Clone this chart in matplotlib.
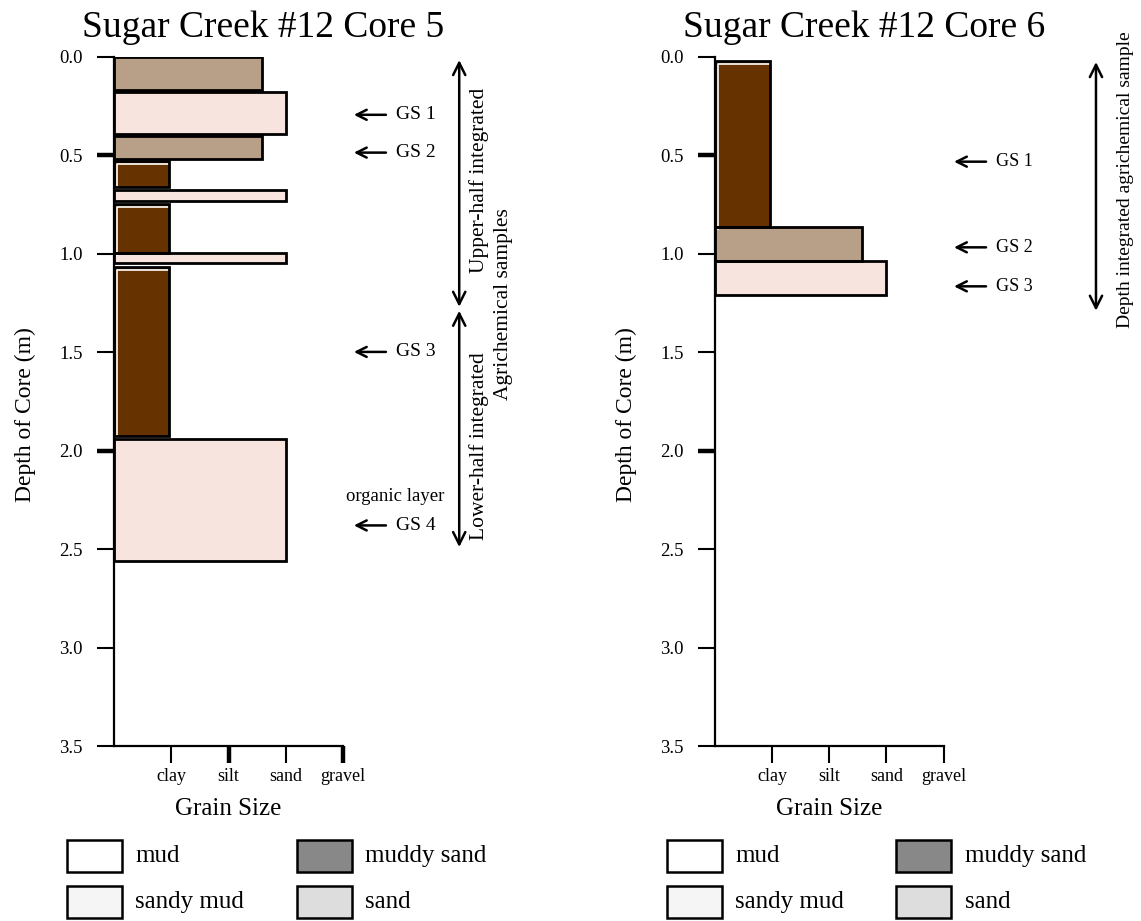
import matplotlib
matplotlib.use('Agg')
import matplotlib.pyplot as plt
from matplotlib.patches import Rectangle
from matplotlib.transforms import offset_copy

plt.rcParams['font.family'] = ['Liberation Serif', 'DejaVu Serif']

# ---------------- data ----------------
grain_ticks = [1, 2, 3, 4]
grain_labels = ['clay', 'silt', 'sand', 'gravel']
depth_ticks = [0.0, 0.5, 1.0, 1.5, 2.0, 2.5, 3.0, 3.5]

core5_top = [0.0, 0.179, 0.405, 0.528, 0.675, 0.75, 0.997, 1.066, 1.94]
core5_bottom = [0.168, 0.391, 0.519, 0.661, 0.735, 0.997, 1.049, 1.926, 2.559]
core5_grain = [2.58, 3.0, 2.58, 0.96, 3.0, 0.96, 3.0, 0.96, 3.0]
core5_kind = ['tan', 'pink', 'tan', 'brown', 'pink', 'brown', 'pink', 'brown', 'pink']

core6_top = [0.02, 0.865, 1.037]
core6_bottom = [0.865, 1.037, 1.211]
core6_grain = [0.96, 2.57, 2.99]
core6_kind = ['brown', 'tan', 'pink']

core5_gs_labels = ['GS 1', 'GS 2', 'GS 3', 'GS 4']
core5_gs_depth = [0.295, 0.487, 1.499, 2.38]
core5_note = 'organic layer'
core5_note_depth = 2.233
core5_ranges = [(0.017, 1.27), (1.29, 2.49)]
core5_range_labels = ['Upper-half integrated', 'Lower-half integrated']
core5_range_label_depth = [0.629, 1.975]
core5_group_label = 'Agrichemical samples'
core5_group_depth = 1.257

core6_gs_labels = ['GS 1', 'GS 2', 'GS 3']
core6_gs_depth = [0.533, 0.968, 1.166]
core6_ranges = [(0.027, 1.29)]
core6_range_labels = ['Depth integrated agrichemical sample']
core6_range_label_depth = [0.624]

legend_names = ['mud', 'sandy mud', 'muddy sand', 'sand']
legend_colors = ['#ffffff', '#f5f5f5', '#888888', '#dddddd']

layer_colors = {'tan': '#b8a088', 'pink': '#f8e4de', 'brown': '#663300'}

W, H = 1141, 921
fig = plt.figure(figsize=(W / 100, H / 100), dpi=100)


def px(x, y):
    return x / W, 1 - y / H


def draw_core(ax, tops, bottoms, grains, kinds):
    heights = [b - t for t, b in zip(tops, bottoms)]
    cols = [layer_colors[k] for k in kinds]
    ax.barh(tops, grains, height=heights, left=0, align='edge',
            color=cols, edgecolor='none', zorder=2)
    hl = offset_copy(ax.transData, fig=fig, x=3, y=-3, units='dots')
    for t, b, g, k in zip(tops, bottoms, grains, kinds):
        if k == 'brown':
            ax.plot([0, 0, g], [b, t, t], color='white', lw=1.2,
                    transform=hl, zorder=3, solid_capstyle='butt')
    ax.barh(tops, grains, height=heights, left=0, align='edge',
            color='none', edgecolor='black', linewidth=2.0, zorder=4)


def style(ax, thick_y, thick_x):
    ax.set_xlim(0, 4)
    ax.set_ylim(3.5, 0)
    for s in ['top', 'right']:
        ax.spines[s].set_visible(False)
    for s in ['left', 'bottom']:
        ax.spines[s].set_linewidth(1.6)
        ax.spines[s].set_zorder(5)
    ax.set_yticks(depth_ticks, [f'{d:.1f}' for d in depth_ticks])
    ax.set_xticks(grain_ticks, grain_labels)
    ax.tick_params(axis='y', direction='out', length=12.5, width=1.5,
                   pad=10, labelsize=13.5)
    ax.tick_params(axis='x', direction='out', length=12.5, width=1.5,
                   pad=3, labelsize=13)
    for d, t in zip(depth_ticks, ax.yaxis.get_major_ticks()):
        if d in thick_y:
            t.tick1line.set_markeredgewidth(3.2)
    for g, t in zip(grain_ticks, ax.xaxis.get_major_ticks()):
        if g in thick_x:
            t.tick1line.set_markeredgewidth(3.2)
    ax.set_xlabel('Grain Size', fontsize=18, labelpad=10)


def gs_arrows(ax, labels, depths, x_head, x_tail, x_text, fs):
    for lab, d in zip(labels, depths):
        ax.annotate('', xy=(x_head, d), xytext=(x_tail, d),
                    arrowprops=dict(arrowstyle='->', lw=1.8, color='black',
                                    mutation_scale=18, shrinkA=0, shrinkB=0),
                    annotation_clip=False)
        ax.text(x_text, d, lab, fontsize=fs, va='center', ha='left', clip_on=False)


def range_arrows(ax, ranges, x):
    for t, b in ranges:
        ax.annotate('', xy=(x, t), xytext=(x, b),
                    arrowprops=dict(arrowstyle='<->', lw=1.8, color='black',
                                    mutation_scale=22, shrinkA=0, shrinkB=0),
                    annotation_clip=False)


# ---------------- Core 5 ----------------
x0, y0 = px(114, 746)
x1, y1 = px(343, 56.7)
ax5 = fig.add_axes([x0, y0, x1 - x0, y1 - y0])
draw_core(ax5, core5_top, core5_bottom, core5_grain, core5_kind)
style(ax5, thick_y=[0.5, 2.0], thick_x=[2, 4])
gs_arrows(ax5, core5_gs_labels, core5_gs_depth, 4.19, 4.75, 4.93, 14)
ax5.text(4.05, core5_note_depth, core5_note, fontsize=13.5, va='center',
         ha='left', clip_on=False)
range_arrows(ax5, core5_ranges, 6.03)
for lab, d in zip(core5_range_labels, core5_range_label_depth):
    ax5.text(6.37, d, lab, rotation=90, fontsize=15.5, ha='center', va='center',
             clip_on=False)
ax5.text(6.8, core5_group_depth, core5_group_label, rotation=90, fontsize=15.5,
         ha='center', va='center', clip_on=False)

# ---------------- Core 6 ----------------
x0, y0 = px(714.7, 746)
x1, y1 = px(943.7, 56.7)
ax6 = fig.add_axes([x0, y0, x1 - x0, y1 - y0])
draw_core(ax6, core6_top, core6_bottom, core6_grain, core6_kind)
style(ax6, thick_y=[0.5, 2.0], thick_x=[])
gs_arrows(ax6, core6_gs_labels, core6_gs_depth, 4.18, 4.74, 4.92, 13)
range_arrows(ax6, core6_ranges, 6.66)
for lab, d in zip(core6_range_labels, core6_range_label_depth):
    ax6.text(7.17, d, lab, rotation=90, fontsize=14, ha='center', va='center',
             clip_on=False)

# ---------------- titles & y labels ----------------
for cx, title in [(263.5, 'Sugar Creek #12 Core 5'), (864, 'Sugar Creek #12 Core 6')]:
    fig.text(*px(cx, 37), title, fontsize=27, ha='center', va='baseline')
for cx in [25, 626]:
    fig.text(*px(cx, 415), 'Depth of Core (m)', fontsize=17, rotation=90,
             ha='center', va='center')

# ---------------- legends ----------------
for bx, tx in [((67, 297), (135, 365)), ((667, 896), (735, 965))]:
    for i, (name, col) in enumerate(zip(legend_names, legend_colors)):
        c = i // 2
        r = i % 2
        yc = 856 + 46 * r
        lx, ly = px(bx[c], yc + 16)
        rect = Rectangle((lx, ly), 55 / W, 32 / H, transform=fig.transFigure,
                         facecolor=col, edgecolor='black', linewidth=1.8)
        fig.add_artist(rect)
        fig.text(*px(tx[c], yc), name, fontsize=18, ha='left', va='center')

fig.savefig('out.png', dpi=100)
